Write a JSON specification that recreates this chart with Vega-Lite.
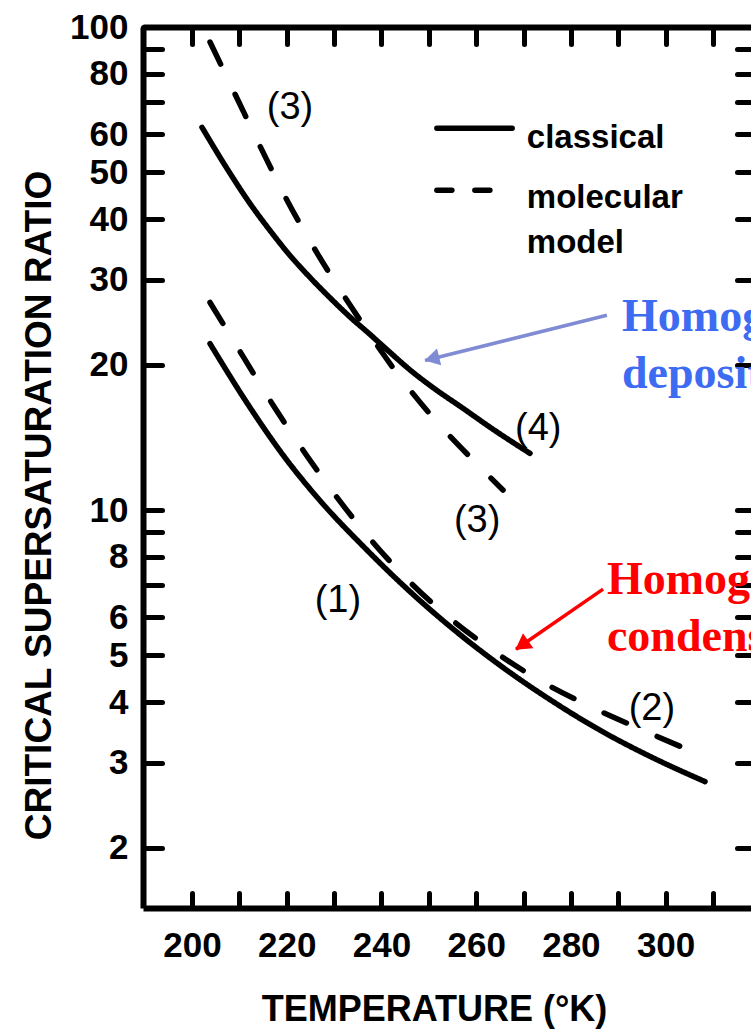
{
  "$schema": "https://vega.github.io/schema/vega-lite/v6.json",
  "width": 608,
  "height": 881,
  "autosize": {"type": "none"},
  "padding": {"left": 143, "top": 27, "right": 0, "bottom": 127},
  "background": "white",
  "config": {
    "view": {"stroke": null},
    "axis": {
      "grid": false,
      "domainColor": "black",
      "tickColor": "black",
      "labelColor": "black",
      "titleColor": "black",
      "labelFont": "Liberation Sans",
      "titleFont": "Liberation Sans",
      "labelFontWeight": "bold",
      "titleFontWeight": "bold",
      "labelFlush": false,
      "labelOverlap": false,
      "labelBound": false,
      "tickCap": "round"
    }
  },
  "datasets": {
    "curves": [
      {"curve": "(1)", "model": "classical", "T": 203.8, "S": 22.1},
      {"curve": "(1)", "model": "classical", "T": 212.25, "S": 16.3},
      {"curve": "(1)", "model": "classical", "T": 219.21, "S": 13.0},
      {"curve": "(1)", "model": "classical", "T": 227.66, "S": 10.29},
      {"curve": "(1)", "model": "classical", "T": 236.11, "S": 8.42},
      {"curve": "(1)", "model": "classical", "T": 244.55, "S": 6.99},
      {"curve": "(1)", "model": "classical", "T": 254.48, "S": 5.74},
      {"curve": "(1)", "model": "classical", "T": 265.03, "S": 4.77},
      {"curve": "(1)", "model": "classical", "T": 275.59, "S": 4.05},
      {"curve": "(1)", "model": "classical", "T": 286.15, "S": 3.50},
      {"curve": "(1)", "model": "classical", "T": 296.71, "S": 3.09},
      {"curve": "(1)", "model": "classical", "T": 308.32, "S": 2.74},
      {"curve": "(2)", "model": "molecular", "T": 203.8, "S": 26.9},
      {"curve": "(2)", "model": "molecular", "T": 210.77, "S": 20.8},
      {"curve": "(2)", "model": "molecular", "T": 217.1, "S": 16.5},
      {"curve": "(2)", "model": "molecular", "T": 224.28, "S": 12.94},
      {"curve": "(2)", "model": "molecular", "T": 232.31, "S": 10.1},
      {"curve": "(2)", "model": "molecular", "T": 241.17, "S": 7.95},
      {"curve": "(2)", "model": "molecular", "T": 251.73, "S": 6.29},
      {"curve": "(2)", "model": "molecular", "T": 262.29, "S": 5.22},
      {"curve": "(2)", "model": "molecular", "T": 273.06, "S": 4.46},
      {"curve": "(2)", "model": "molecular", "T": 283.61, "S": 3.94},
      {"curve": "(2)", "model": "molecular", "T": 295.23, "S": 3.50},
      {"curve": "(2)", "model": "molecular", "T": 308.74, "S": 3.07},
      {"curve": "(3)", "model": "molecular", "T": 203.8, "S": 93.1},
      {"curve": "(3)", "model": "molecular", "T": 209.5, "S": 71.2},
      {"curve": "(3)", "model": "molecular", "T": 214.78, "S": 55.6},
      {"curve": "(3)", "model": "molecular", "T": 220.06, "S": 43.8},
      {"curve": "(3)", "model": "molecular", "T": 226.6, "S": 33.8},
      {"curve": "(3)", "model": "molecular", "T": 233.78, "S": 26.2},
      {"curve": "(3)", "model": "molecular", "T": 244.55, "S": 18.5},
      {"curve": "(3)", "model": "molecular", "T": 250.25, "S": 15.8},
      {"curve": "(3)", "model": "molecular", "T": 260.18, "S": 12.45},
      {"curve": "(3)", "model": "molecular", "T": 265.67, "S": 11.0},
      {"curve": "(4)", "model": "classical", "T": 202.1, "S": 62.0},
      {"curve": "(4)", "model": "classical", "T": 206.97, "S": 51.7},
      {"curve": "(4)", "model": "classical", "T": 212.25, "S": 43.1},
      {"curve": "(4)", "model": "classical", "T": 216.47, "S": 37.9},
      {"curve": "(4)", "model": "classical", "T": 220.69, "S": 33.65},
      {"curve": "(4)", "model": "classical", "T": 224.92, "S": 30.3},
      {"curve": "(4)", "model": "classical", "T": 229.14, "S": 27.5},
      {"curve": "(4)", "model": "classical", "T": 233.36, "S": 25.1},
      {"curve": "(4)", "model": "classical", "T": 237.58, "S": 23.1},
      {"curve": "(4)", "model": "classical", "T": 241.81, "S": 21.2},
      {"curve": "(4)", "model": "classical", "T": 246.03, "S": 19.5},
      {"curve": "(4)", "model": "classical", "T": 251.31, "S": 17.8},
      {"curve": "(4)", "model": "classical", "T": 256.59, "S": 16.4},
      {"curve": "(4)", "model": "classical", "T": 263.98, "S": 14.6},
      {"curve": "(4)", "model": "classical", "T": 271.37, "S": 13.1}
    ],
    "curveLabels": [
      {"label": "(3)", "T": 220.7, "S": 67.9},
      {"label": "(4)", "T": 273.1, "S": 14.7},
      {"label": "(3)", "T": 260.2, "S": 9.49},
      {"label": "(1)", "T": 230.8, "S": 6.47},
      {"label": "(2)", "T": 297.1, "S": 3.88}
    ],
    "key": [
      {"model": "classical", "T": 251.7, "T2": 267.6, "S": 61.7},
      {"model": "molecular", "T": 251.7, "T2": 263.3, "S": 45.9}
    ],
    "keyText": [
      {"text": "classical", "T": 270.7, "S": 56.1},
      {"text": "molecular", "T": 270.7, "S": 42.1},
      {"text": "model", "T": 270.7, "S": 34.1}
    ],
    "callouts": [
      {"kind": "deposition", "text": "Homogeneous", "T": 290.8, "S": 23.5},
      {"kind": "deposition", "text": "deposition", "T": 290.8, "S": 17.9},
      {"kind": "condensation", "text": "Homogeneous", "T": 287.6, "S": 6.69},
      {"kind": "condensation", "text": "condensation", "T": 287.6, "S": 5.10}
    ],
    "arrows": [
      {"kind": "deposition", "T": 287.6, "S": 25.3, "T2": 249.2, "S2": 20.4},
      {"kind": "condensation", "T": 286.8, "S": 6.86, "T2": 268.4, "S2": 5.15}
    ]
  },
  "layer": [
    {
      "data": {"name": "curves"},
      "mark": {"type": "line", "interpolate": "monotone", "strokeWidth": 5.5, "strokeCap": "round", "strokeJoin": "round", "color": "black"},
      "encoding": {
        "x": {
          "field": "T", "type": "quantitative",
          "scale": {"domain": [189.65, 318.03], "nice": false, "zero": false},
          "axis": {
            "orient": "bottom",
            "values": [200, 210, 220, 230, 240, 250, 260, 270, 280, 290, 300, 310],
            "format": "d",
            "labelExpr": "datum.value % 20 == 0 ? datum.label : ''",
            "tickSize": -15, "tickWidth": 5, "domainWidth": 6,
            "labelPadding": 35, "labelFontSize": 35,
            "title": "TEMPERATURE (°K)", "titleFontSize": 36,
            "titleX": 291, "titleY": 112, "titleBaseline": "alphabetic", "titleAlign": "center"
          }
        },
        "y": {
          "field": "S", "type": "quantitative",
          "scale": {"type": "log", "domain": [1.5, 100], "nice": false},
          "axis": {
            "orient": "left",
            "values": [2, 3, 4, 5, 6, 7, 8, 9, 10, 20, 30, 40, 50, 60, 70, 80, 90, 100],
            "format": "d",
            "labelExpr": "indexof([7, 9, 70, 90], datum.value) >= 0 ? '' : datum.label",
            "tickSize": -19, "tickWidth": 5, "domainWidth": 6,
            "labelPadding": 34, "labelFontSize": 35,
            "title": "CRITICAL SUPERSATURATION RATIO", "titleFontSize": 37,
            "titleX": -93, "titleY": 478, "titleBaseline": "alphabetic", "titleAlign": "center", "titleAngle": 270
          }
        },
        "detail": {"field": "curve"},
        "strokeDash": {
          "field": "model", "type": "nominal",
          "scale": {"domain": ["classical", "molecular"], "range": [[1, 0], [24.5, 33.5]]},
          "legend": null
        }
      }
    },
    {
      "data": {"name": "curveLabels"},
      "mark": {"type": "text", "font": "Liberation Sans", "fontSize": 38, "align": "center", "baseline": "middle", "color": "black"},
      "encoding": {
        "x": {
          "field": "T", "type": "quantitative",
          "scale": {"domain": [189.65, 318.03], "nice": false, "zero": false},
          "axis": {
            "orient": "top",
            "values": [200, 210, 220, 230, 240, 250, 260, 270, 280, 290, 300, 310],
            "labels": false, "tickSize": -17, "tickWidth": 5, "domainWidth": 6, "title": null
          }
        },
        "y": {
          "field": "S", "type": "quantitative",
          "scale": {"type": "log", "domain": [1.5, 100], "nice": false},
          "axis": {
            "orient": "right",
            "values": [2, 3, 4, 5, 6, 7, 8, 9, 10, 20, 30, 40, 50, 60, 70, 80, 90, 100],
            "labels": false, "domain": false, "tickSize": -14, "tickWidth": 5, "title": null
          }
        },
        "text": {"field": "label"}
      }
    },
    {
      "data": {"name": "key"},
      "mark": {"type": "rule", "strokeWidth": 5.5, "strokeCap": "round", "color": "black"},
      "encoding": {
        "x": {"field": "T", "type": "quantitative", "scale": {"domain": [189.65, 318.03], "nice": false, "zero": false}, "axis": null},
        "x2": {"field": "T2"},
        "y": {"field": "S", "type": "quantitative", "scale": {"type": "log", "domain": [1.5, 100], "nice": false}, "axis": null},
        "strokeDash": {
          "field": "model", "type": "nominal",
          "scale": {"domain": ["classical", "molecular"], "range": [[1, 0], [15, 23]]},
          "legend": null
        }
      }
    },
    {
      "data": {"name": "keyText"},
      "mark": {"type": "text", "font": "Liberation Sans", "fontWeight": "bold", "fontSize": 33, "align": "left", "baseline": "alphabetic", "color": "black"},
      "encoding": {
        "x": {"field": "T", "type": "quantitative", "scale": {"domain": [189.65, 318.03], "nice": false, "zero": false}, "axis": null},
        "y": {"field": "S", "type": "quantitative", "scale": {"type": "log", "domain": [1.5, 100], "nice": false}, "axis": null},
        "text": {"field": "text"}
      }
    },
    {
      "data": {"name": "callouts"},
      "mark": {"type": "text", "font": "Liberation Serif", "fontWeight": "bold", "fontSize": 46, "align": "left", "baseline": "alphabetic"},
      "encoding": {
        "x": {"field": "T", "type": "quantitative", "scale": {"domain": [189.65, 318.03], "nice": false, "zero": false}, "axis": null},
        "y": {"field": "S", "type": "quantitative", "scale": {"type": "log", "domain": [1.5, 100], "nice": false}, "axis": null},
        "text": {"field": "text"},
        "color": {"field": "kind", "type": "nominal", "scale": {"domain": ["deposition", "condensation"], "range": ["#3d6bf2", "#ff0000"]}, "legend": null}
      }
    },
    {
      "data": {"name": "arrows"},
      "mark": {"type": "rule", "strokeWidth": 3.5},
      "encoding": {
        "x": {"field": "T", "type": "quantitative", "scale": {"domain": [189.65, 318.03], "nice": false, "zero": false}, "axis": null},
        "y": {"field": "S", "type": "quantitative", "scale": {"type": "log", "domain": [1.5, 100], "nice": false}, "axis": null},
        "x2": {"field": "T2"},
        "y2": {"field": "S2"},
        "color": {"field": "kind", "type": "nominal", "scale": {"domain": ["deposition", "condensation"], "range": ["#7f8bd3", "#ff0000"]}, "legend": null}
      }
    },
    {
      "data": {"name": "arrows"},
      "transform": [{"filter": "datum.kind == 'deposition'"}],
      "mark": {"type": "point", "shape": "triangle-up", "filled": true, "size": 300, "angle": 256, "xOffset": 6.8, "yOffset": -1.7, "color": "#7f8bd3", "opacity": 1},
      "encoding": {
        "x": {"field": "T2", "type": "quantitative", "scale": {"domain": [189.65, 318.03], "nice": false, "zero": false}, "axis": null},
        "y": {"field": "S2", "type": "quantitative", "scale": {"type": "log", "domain": [1.5, 100], "nice": false}, "axis": null}
      }
    },
    {
      "data": {"name": "arrows"},
      "transform": [{"filter": "datum.kind == 'condensation'"}],
      "mark": {"type": "point", "shape": "triangle-up", "filled": true, "size": 330, "angle": 235, "xOffset": 5.8, "yOffset": -4.0, "color": "#ff0000", "opacity": 1},
      "encoding": {
        "x": {"field": "T2", "type": "quantitative", "scale": {"domain": [189.65, 318.03], "nice": false, "zero": false}, "axis": null},
        "y": {"field": "S2", "type": "quantitative", "scale": {"type": "log", "domain": [1.5, 100], "nice": false}, "axis": null}
      }
    }
  ],
  "resolve": {
    "axis": {"x": "independent", "y": "independent"},
    "scale": {"color": "independent", "strokeDash": "independent"}
  }
}
